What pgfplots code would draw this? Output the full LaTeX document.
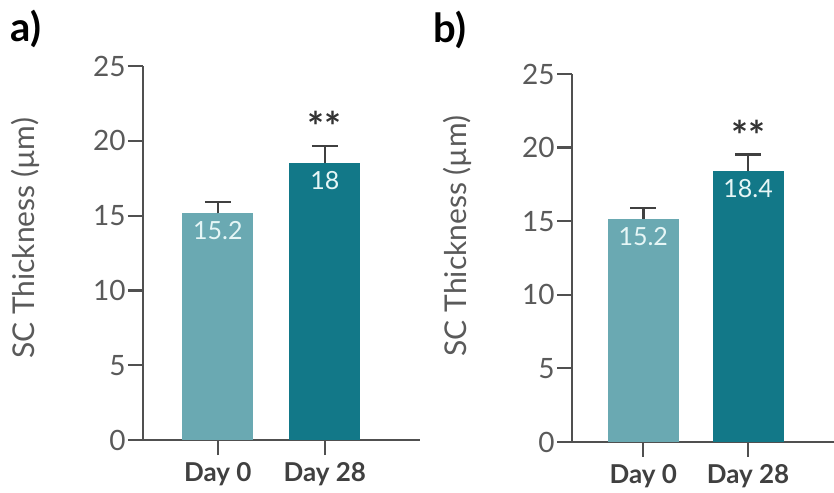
\documentclass[border=0pt]{standalone}
\usepackage{fontspec}
\setmainfont{Lato}
\usepackage{pgfplots}
\usepackage{pgfplotstable}
\pgfplotsset{compat=1.18}

\definecolor{lightteal}{HTML}{6AA9B2}
\definecolor{darkteal}{HTML}{127888}
\definecolor{axgray}{HTML}{505050}
\definecolor{labgray}{HTML}{5A5A5A}
\definecolor{vallab}{HTML}{E6F6F6}

\pgfplotsset{
  panel/.style={
    scale only axis,
    axis lines=left,
    axis line style={-, axgray, line width=1.1pt},
    ymin=0, ymax=25,
    ytick={0,5,10,15,20,25},
    xtick={0,1},
    xticklabels={Day 0, Day 28},
    tick align=outside,
    major tick length=7.5pt,
    tick style={axgray, line width=1.1pt},
    /pgf/number format/assume math mode=true,
    yticklabel style={font=\fontsize{14}{16}\selectfont, text=labgray, inner sep=1pt},
    xticklabel style={font=\fontsize{13}{15}\selectfont\bfseries, text=black!75},
    ylabel={SC Thickness (µm)},
    ylabel style={font=\fontsize{15}{17}\selectfont, text=labgray, anchor=center},
    clip=false,
    point meta=explicit symbolic,
  },
  barA/.style={ybar, bar width=35.5pt, bar shift=0pt, draw=none, fill=#1,
    nodes near coords,
    every node near coord/.append style={anchor=north, yshift=-4pt, inner sep=0pt,
      font=\fontsize{12.5}{14}\selectfont, text=vallab},
    error bars/.cd, y dir=plus, y explicit,
    error bar style={line width=1.3pt, black!75},
    error mark options={rotate=90, line width=1.3pt, black!75, mark size=6.5pt},
  },
}

\begin{document}
\begin{tikzpicture}
\useasboundingbox (0,0) rectangle (417pt,246pt);

\begin{axis}[panel, at={(71.5pt,26pt)}, anchor=south west,
  width=138.5pt, height=187pt, xmin=-0.70, xmax=1.89,
  ylabel style={at={(axis description cs:-0.426,0.539)}}]
\addplot[barA=lightteal] table[x=x, y=y, y error=err, meta=lab] {
x y err lab
0 15.15 0.75 15.2
};
\addplot[barA=darkteal] table[x=x, y=y, y error=err, meta=lab] {
x y err lab
1 18.5 1.15 18
};
\node[font=\fontsize{20}{22}\selectfont\bfseries, text=black!80] at (axis cs:1,21.0) {**};
\end{axis}

\begin{axis}[panel, at={(286pt,25pt)}, anchor=south west,
  width=131pt, height=184pt, xmin=-0.68, xmax=1.82,
  ylabel style={at={(axis description cs:-0.439,0.56)}}]
\addplot[barA=lightteal] table[x=x, y=y, y error=err, meta=lab] {
x y err lab
0 15.15 0.75 15.2
};
\addplot[barA=darkteal] table[x=x, y=y, y error=err, meta=lab] {
x y err lab
1 18.4 1.15 18.4
};
\node[font=\fontsize{20}{22}\selectfont\bfseries, text=black!80] at (axis cs:1,20.8) {**};
\end{axis}

\node[anchor=base west, inner sep=0pt, font=\fontsize{20}{22}\selectfont\bfseries] at (5pt,225pt) {a)};
\node[anchor=base west, inner sep=0pt, font=\fontsize{20}{22}\selectfont\bfseries] at (216.5pt,224.5pt) {b)};
\end{tikzpicture}
\end{document}
